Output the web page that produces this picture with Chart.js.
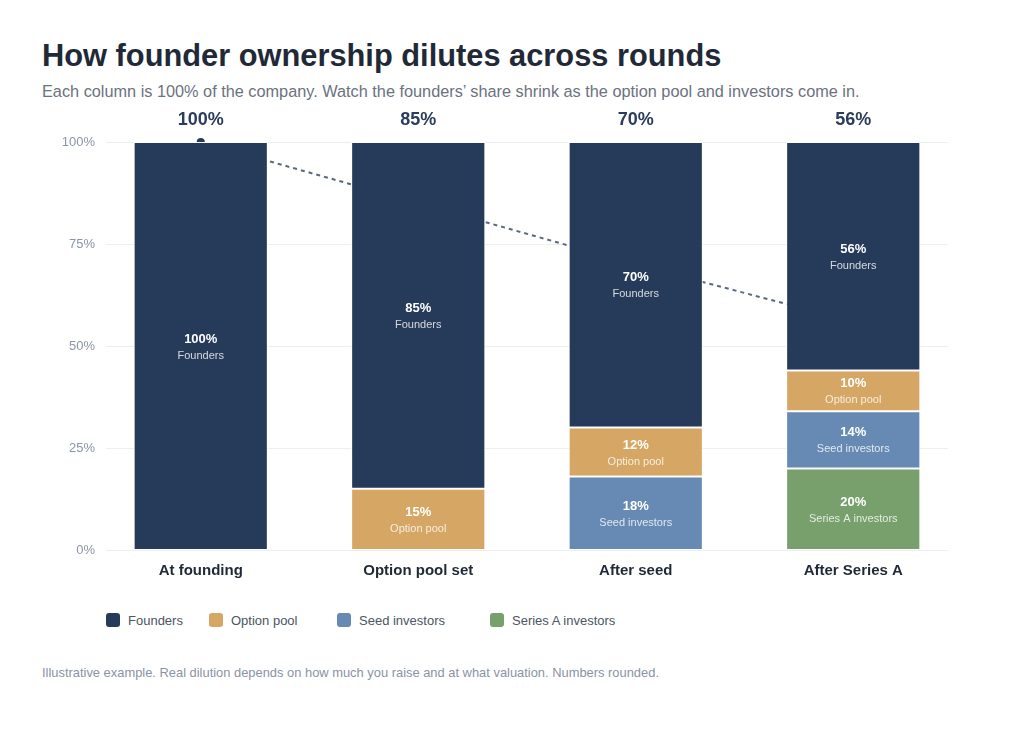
<!DOCTYPE html>
<html>
<head>
<meta charset="utf-8">
<script src="https://cdn.jsdelivr.net/npm/chart.js@4.4.1/dist/chart.umd.min.js"></script>
<style>
  body { margin: 0; background: #fff; font-family: "Liberation Sans", Arial, sans-serif; }
  #page { position: relative; width: 1024px; height: 740px; overflow: hidden; }
  h1 { position: absolute; left: 42px; top: 41px; margin: 0; font-size: 30.8px; line-height: 30px; font-weight: bold; color: #1f2937; white-space: nowrap; }
  .sub { position: absolute; left: 42px; top: 83px; margin: 0; font-size: 16.3px; line-height: 16px; color: #6b7280; white-space: nowrap; }
  #wrap { position: absolute; left: 0; top: 100px; width: 1024px; height: 500px; }
  #legend { position: absolute; left: 106px; top: 612px; display: flex; height: 16px; align-items: center; }
  .item { display: flex; align-items: center; font-size: 13px; color: #4b5563; white-space: nowrap; }
  .item:nth-child(1) { width: 103px; }
  .item:nth-child(2) { width: 128px; }
  .item:nth-child(3) { width: 153px; }
  .swatch { width: 14px; height: 14px; border-radius: 3px; margin-right: 8px; }
  .note { position: absolute; left: 42px; top: 666px; margin: 0; font-size: 12.9px; line-height: 13px; color: #8a93a3; white-space: nowrap; }
</style>
</head>
<body>
<div id="page">
  <h1>How founder ownership dilutes across rounds</h1>
  <p class="sub">Each column is 100% of the company. Watch the founders’ share shrink as the option pool and investors come in.</p>
  <div id="wrap"><canvas id="myChart" width="1024" height="500"></canvas></div>
  <div id="legend"></div>
  <p class="note">Illustrative example. Real dilution depends on how much you raise and at what valuation. Numbers rounded.</p>
</div>
<script>
  // rounds along the x axis
  const rounds = ['At founding', 'Option pool set', 'After seed', 'After Series A'];

  // share of the company (%) per holder, per round
  const founders = [100, 85, 70, 56];
  const optionPool = [0, 15, 12, 10];
  const seedInvestors = [0, 0, 18, 14];
  const seriesAInvestors = [0, 0, 0, 20];

  const yTicks = [0, 25, 50, 75, 100];

  const navy = '#263a5a';

  // stacked bottom-up: Series A at the bottom, founders on top
  const barSets = [
    { label: 'Series A investors', data: seriesAInvestors, color: '#77a06c' },
    { label: 'Seed investors', data: seedInvestors, color: '#668ab4' },
    { label: 'Option pool', data: optionPool, color: '#d6a664' },
    { label: 'Founders', data: founders, color: navy }
  ];

  // light gridlines, a bit shorter than the plot area, plus the % labels
  const gridPlugin = {
    id: 'shortGrid',
    beforeDatasetsDraw(chart) {
      const { ctx, chartArea, scales } = chart;
      ctx.save();
      ctx.strokeStyle = '#eceef1';
      ctx.lineWidth = 1;
      ctx.fillStyle = '#8c95a5';
      ctx.font = '13px "Liberation Sans", Arial, sans-serif';
      ctx.textAlign = 'right';
      ctx.textBaseline = 'middle';
      yTicks.forEach(function(t) {
        const y = Math.round(scales.y.getPixelForValue(t)) + 0.5;
        ctx.beginPath();
        ctx.moveTo(chartArea.left + 14, y);
        ctx.lineTo(chartArea.right - 14, y);
        ctx.stroke();
        ctx.fillText(t + '%', chartArea.left + 3, y);
      });
      ctx.restore();
    }
  };

  // value + name inside each segment, founders total above each column
  const labelPlugin = {
    id: 'segLabels',
    afterDatasetsDraw(chart) {
      const ctx = chart.ctx;
      ctx.save();
      ctx.textAlign = 'center';
      ctx.textBaseline = 'middle';
      chart.data.datasets.forEach(function(ds, di) {
        if (ds.type === 'line') return;
        const meta = chart.getDatasetMeta(di);
        meta.data.forEach(function(bar, i) {
          const v = ds.data[i];
          if (!v) return;
          const mid = (bar.y + bar.base) / 2;
          ctx.fillStyle = '#ffffff';
          ctx.font = 'bold 13px "Liberation Sans", Arial, sans-serif';
          ctx.fillText(v + '%', bar.x, mid - 7);
          ctx.fillStyle = 'rgba(255,255,255,0.8)';
          ctx.font = '11px "Liberation Sans", Arial, sans-serif';
          ctx.fillText(ds.label, bar.x, mid + 9.5);
        });
      });
      const top = chart.getDatasetMeta(barSets.length - 1);
      ctx.fillStyle = '#2b3d5c';
      ctx.font = 'bold 18px "Liberation Sans", Arial, sans-serif';
      top.data.forEach(function(bar, i) {
        ctx.fillText(founders[i] + '%', bar.x, chart.chartArea.top - 22);
      });
      ctx.restore();
    }
  };

  const datasets = barSets.map(function(s) {
    return {
      type: 'bar',
      label: s.label,
      data: s.data,
      backgroundColor: s.color,
      borderColor: '#ffffff',
      borderWidth: 1,
      borderSkipped: false,
      categoryPercentage: 0.617,
      barPercentage: 1,
      order: 0
    };
  });

  // founders' share trend, drawn behind the columns
  datasets.push({
    type: 'line',
    label: 'Founders trend',
    data: founders,
    borderColor: '#5a6980',
    borderWidth: 2,
    borderDash: [4, 4],
    pointRadius: 4,
    pointBackgroundColor: navy,
    pointBorderWidth: 0,
    tension: 0,
    clip: false,
    order: 5
  });

  Chart.defaults.font.family = '"Liberation Sans", Arial, sans-serif';

  new Chart(document.getElementById('myChart').getContext('2d'), {
    data: { labels: rounds, datasets: datasets },
    options: {
      responsive: false,
      animation: false,
      layout: { padding: { top: 42, right: 62, left: 0, bottom: 0 } },
      scales: {
        x: {
          stacked: true,
          grid: { display: false, drawTicks: false },
          border: { display: false },
          ticks: { color: '#1f2937', font: { size: 15, weight: 'bold' }, padding: 12 },
          afterFit: function(scale) { scale.height = 50; }
        },
        y: {
          stacked: true,
          min: 0,
          max: 100,
          grid: { display: false, drawTicks: false },
          border: { display: false },
          ticks: { display: false, stepSize: 25 },
          afterFit: function(scale) { scale.width = 92; }
        }
      },
      plugins: {
        legend: { display: false },
        tooltip: { enabled: false }
      }
    },
    plugins: [gridPlugin, labelPlugin]
  });

  // legend in the original order: founders first
  const legendEl = document.getElementById('legend');
  barSets.slice().reverse().forEach(function(s) {
    const item = document.createElement('div');
    item.className = 'item';
    const sw = document.createElement('span');
    sw.className = 'swatch';
    sw.style.background = s.color;
    item.appendChild(sw);
    item.appendChild(document.createTextNode(s.label));
    legendEl.appendChild(item);
  });
</script>
</body>
</html>
